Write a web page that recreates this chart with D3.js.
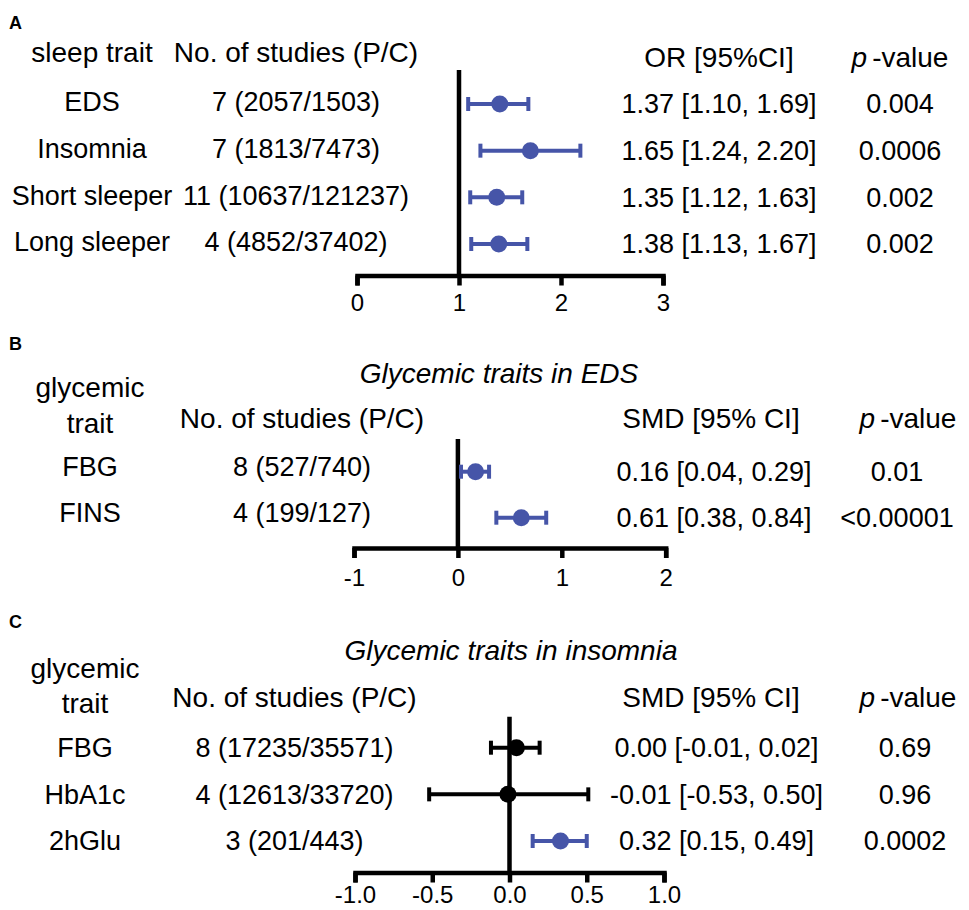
<!DOCTYPE html>
<html lang="en">
<head>
<meta charset="UTF-8">
<title>Forest plots</title>
<script src="https://d3js.org/d3.v7.min.js"></script>
<style>
  body { margin: 0; background: #fff; }
  svg { font-family: "Liberation Sans", Arial, sans-serif; }
  .data { font-size: 27px; fill: #000; }
  .head { font-size: 28px; fill: #000; }
  .title { font-size: 28px; font-style: italic; }
  .letter { font-size: 18px; font-weight: bold; }
  .axis path, .axis line { stroke: #000; stroke-width: 4.5; fill: none; }
  .axis text { font-size: 24px; fill: #000; font-family: "Liberation Sans", Arial, sans-serif; }
</style>
</head>
<body>
<script>
// ---- data ----
// A: sleep traits
const sleepTraits = ['EDS', 'Insomnia', 'Short sleeper', 'Long sleeper'];
const sleepStudies = ['7 (2057/1503)', '7 (1813/7473)', '11 (10637/121237)', '4 (4852/37402)'];
const sleepEst = [1.40, 1.70, 1.37, 1.39];
const sleepLow = [1.09, 1.21, 1.11, 1.12];
const sleepHigh = [1.68, 2.19, 1.62, 1.67];
const sleepCI = ['1.37 [1.10, 1.69]', '1.65 [1.24, 2.20]', '1.35 [1.12, 1.63]', '1.38 [1.13, 1.67]'];
const sleepP = ['0.004', '0.0006', '0.002', '0.002'];
const sleepSig = [true, true, true, true];
const sleepTicks = [0, 1, 2, 3];

// B: glycemic traits in EDS
const edsTraits = ['FBG', 'FINS'];
const edsStudies = ['8 (527/740)', '4 (199/127)'];
const edsEst = [0.17, 0.61];
const edsLow = [0.03, 0.37];
const edsHigh = [0.30, 0.85];
const edsCI = ['0.16 [0.04, 0.29]', '0.61 [0.38, 0.84]'];
const edsP = ['0.01', '<0.00001'];
const edsSig = [true, true];
const edsTicks = [-1, 0, 1, 2];

// C: glycemic traits in insomnia
const insTraits = ['FBG', 'HbA1c', '2hGlu'];
const insStudies = ['8 (17235/35571)', '4 (12613/33720)', '3 (201/443)'];
const insEst = [0.045, -0.01, 0.33];
const insLow = [-0.12, -0.52, 0.15];
const insHigh = [0.195, 0.51, 0.50];
const insCI = ['0.00 [-0.01, 0.02]', '-0.01 [-0.53, 0.50]', '0.32 [0.15, 0.49]'];
const insP = ['0.69', '0.96', '0.0002'];
const insSig = [false, false, true];
const insTicks = [-1.0, -0.5, 0.0, 0.5, 1.0];

const blue = '#4655a8';

const svg = d3.select('body').append('svg')
  .attr('width', 969)
  .attr('height', 910);

// one panel = table columns on both sides + forest plot in the middle
function drawPanel(p) {
  const g = svg.append('g');
  const rows = p.traits.map((t, i) => ({
    trait: t, studies: p.studies[i], est: p.est[i], lo: p.low[i], hi: p.high[i],
    ci: p.ci[i], pv: p.pv[i], sig: p.sig[i]
  }));

  const x = d3.scaleLinear().domain(p.domain).range(p.xRange);
  const y = d3.scalePoint().domain(p.traits).range(p.yRange);

  g.append('text').attr('class', 'letter').attr('x', 9).attr('y', p.letterY).text(p.letter);

  if (p.title) {
    g.append('text').attr('class', 'title').attr('x', p.titleX).attr('y', p.titleY)
      .attr('text-anchor', 'middle').text(p.title);
  }

  // column headers
  p.traitHead.forEach((line, i) => {
    g.append('text').attr('class', 'head').attr('x', p.col1).attr('y', p.traitHeadY[i])
      .attr('text-anchor', 'middle').text(line);
  });
  g.append('text').attr('class', 'head').attr('x', p.col2).attr('y', p.headY)
    .attr('text-anchor', 'middle').text('No. of studies (P/C)');
  g.append('text').attr('class', 'head').attr('x', p.ciHeadX).attr('y', p.rightHeadY)
    .attr('text-anchor', 'middle').text(p.ciHead);
  const ph = g.append('text').attr('class', 'head').attr('x', p.pHeadX).attr('y', p.rightHeadY)
    .attr('text-anchor', 'middle');
  ph.append('tspan').attr('font-style', 'italic').text('p');
  ph.append('tspan').attr('dx', 5).text('-value');

  // table text
  const left = g.selectAll('.row').data(rows).enter().append('g').attr('class', 'row');
  left.append('text').attr('class', 'data').attr('x', p.col1)
    .attr('y', d => y(d.trait) + p.leftDy).attr('dy', '0.35em')
    .attr('text-anchor', 'middle').text(d => d.trait);
  left.append('text').attr('class', 'data').attr('x', p.col2)
    .attr('y', d => y(d.trait) + p.leftDy).attr('dy', '0.35em')
    .attr('text-anchor', 'middle').text(d => d.studies);
  left.append('text').attr('class', 'data').attr('x', p.ciX)
    .attr('y', d => y(d.trait)).attr('dy', '0.35em')
    .attr('text-anchor', 'middle').text(d => d.ci);
  left.append('text').attr('class', 'data').attr('x', p.pX)
    .attr('y', d => y(d.trait)).attr('dy', '0.35em')
    .attr('text-anchor', 'middle').text(d => d.pv);

  // axis
  const fmt = d3.format(p.fmt);
  g.append('g').attr('class', 'axis')
    .attr('transform', `translate(0,${p.axisY})`)
    .call(d3.axisBottom(x).tickValues(p.ticks).tickSize(10).tickSizeOuter(10)
      .tickPadding(p.tickPad).tickFormat(d => fmt(d).replace('\u2212', '-')))
    .call(a => a.selectAll('text').attr('dy', '0.71em'));

  // reference line
  g.append('line')
    .attr('x1', x(p.ref)).attr('x2', x(p.ref))
    .attr('y1', p.refTop).attr('y2', p.axisY)
    .attr('stroke', '#000').attr('stroke-width', 4.5);

  // error bars
  const bars = g.selectAll('.ci').data(rows).enter().append('g').attr('class', 'ci')
    .attr('stroke', d => d.sig ? blue : '#000')
    .attr('fill', d => d.sig ? blue : '#000');
  bars.append('line')
    .attr('x1', d => x(d.lo)).attr('x2', d => x(d.hi))
    .attr('y1', d => y(d.trait)).attr('y2', d => y(d.trait))
    .attr('stroke-width', 4);
  bars.append('line')
    .attr('x1', d => x(d.lo)).attr('x2', d => x(d.lo))
    .attr('y1', d => y(d.trait) - 7).attr('y2', d => y(d.trait) + 7)
    .attr('stroke-width', 4);
  bars.append('line')
    .attr('x1', d => x(d.hi)).attr('x2', d => x(d.hi))
    .attr('y1', d => y(d.trait) - 7).attr('y2', d => y(d.trait) + 7)
    .attr('stroke-width', 4);
  bars.append('circle')
    .attr('cx', d => x(d.est)).attr('cy', d => y(d.trait))
    .attr('r', 8.5).attr('stroke', 'none');
}

drawPanel({
  letter: 'A', letterY: 29,
  traits: sleepTraits, studies: sleepStudies, est: sleepEst, low: sleepLow, high: sleepHigh,
  ci: sleepCI, pv: sleepP, sig: sleepSig, ticks: sleepTicks, fmt: 'd',
  domain: [0, 3], xRange: [357, 663], yRange: [104, 244],
  traitHead: ['sleep trait'], traitHeadY: [62], headY: 62, rightHeadY: 67,
  ciHead: 'OR [95%CI]', ciHeadX: 719, pHeadX: 900,
  col1: 92, col2: 296, ciX: 719, pX: 900, leftDy: -2,
  axisY: 275.5, refTop: 70, ref: 1, tickPad: 8
});

drawPanel({
  letter: 'B', letterY: 350,
  title: 'Glycemic traits in EDS', titleX: 499, titleY: 383,
  traits: edsTraits, studies: edsStudies, est: edsEst, low: edsLow, high: edsHigh,
  ci: edsCI, pv: edsP, sig: edsSig, ticks: edsTicks, fmt: 'd',
  domain: [-1, 2], xRange: [354, 665.7], yRange: [471.7, 517.7],
  traitHead: ['glycemic', 'trait'], traitHeadY: [396.7, 432.7], headY: 428, rightHeadY: 428,
  ciHead: 'SMD [95% CI]', ciHeadX: 711, pHeadX: 908,
  col1: 90, col2: 302, ciX: 714, pX: 897, leftDy: -5,
  axisY: 548, refTop: 439, ref: 0, tickPad: 11
});

drawPanel({
  letter: 'C', letterY: 628,
  title: 'Glycemic traits in insomnia', titleX: 511, titleY: 660,
  traits: insTraits, studies: insStudies, est: insEst, low: insLow, high: insHigh,
  ci: insCI, pv: insP, sig: insSig, ticks: insTicks, fmt: '.1f',
  domain: [-1, 1], xRange: [355, 664], yRange: [747.7, 841],
  traitHead: ['glycemic', 'trait'], traitHeadY: [678, 713], headY: 707, rightHeadY: 707,
  ciHead: 'SMD [95% CI]', ciHeadX: 711, pHeadX: 908,
  col1: 85, col2: 294.5, ciX: 716.5, pX: 905, leftDy: 0,
  axisY: 872.5, refTop: 716.7, ref: 0, tickPad: 3
});
</script>
</body>
</html>
